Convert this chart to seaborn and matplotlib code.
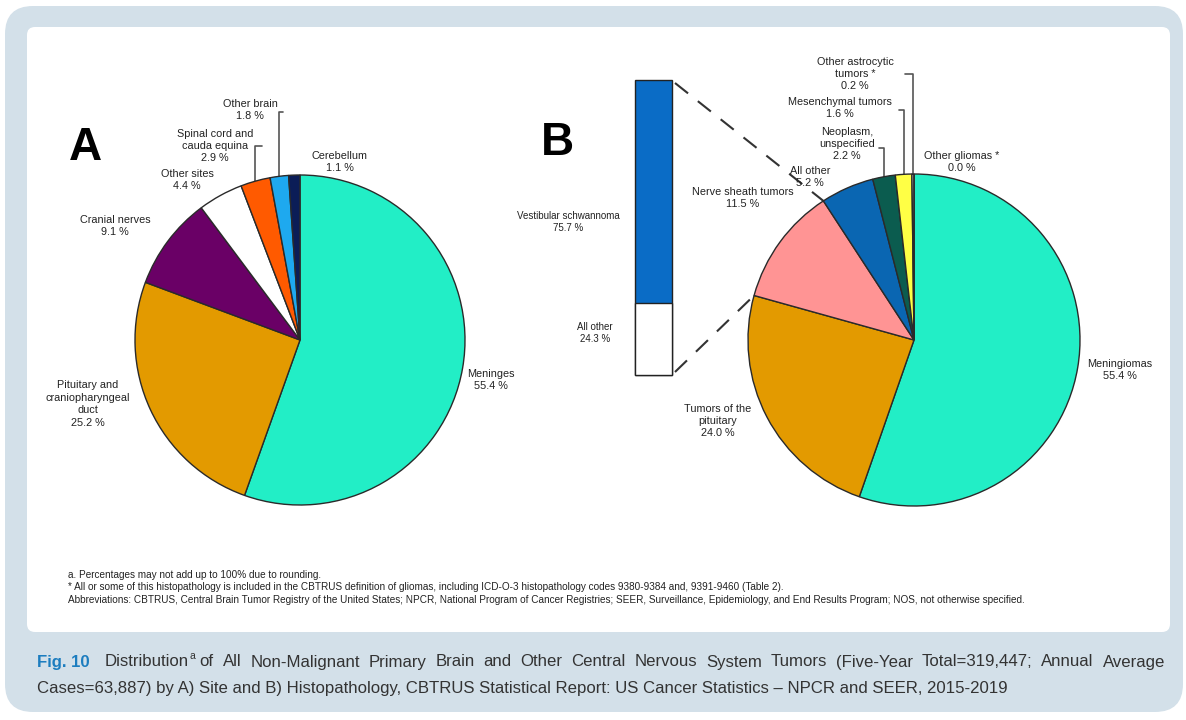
# CBTRUS fig 10 - non-malignant brain/CNS tumors by site and histopathology

import numpy as np
import pandas as pd
import matplotlib
matplotlib.use("Agg")
import matplotlib.pyplot as plt
from matplotlib.patches import FancyBboxPatch
import seaborn as sns

# --- data ---
site_labels = ["Meninges", "Pituitary and\ncraniopharyngeal\nduct", "Cranial nerves",
               "Other sites", "Spinal cord and\ncauda equina", "Other brain", "Cerebellum"]
site_pct = [55.4, 25.2, 9.1, 4.4, 2.9, 1.8, 1.1]
site_colors = ["#22EEC6", "#E39A00", "#6A0066", "#FFFFFF", "#FF5A00", "#1EA9EF", "#0B1D57"]

histo_labels = ["Meningiomas", "Tumors of the\npituitary", "Nerve sheath tumors", "All other",
                "Neoplasm,\nunspecified", "Mesenchymal tumors", "Other astrocytic\ntumors *",
                "Other gliomas *"]
histo_pct = [55.4, 24.0, 11.5, 5.2, 2.2, 1.6, 0.2, 0.0]
histo_colors = ["#22EEC6", "#E39A00", "#FF9494", "#0A66B2", "#0B5C4F", "#FFFF45", "#E8E8E8", "#8866CC"]

nerve_labels = ["All other", "Vestibular schwannoma"]
nerve_pct = [24.3, 75.7]
nerve_colors = ["#FFFFFF", "#0A6CC6"]

# label layout (pixel centres)
site_xy = [(491, 380), (88, 404), (115, 226), (187, 180), (215, 146), (250, 110), (340, 162)]
histo_xy = [(1120, 370), (718, 421), (743, 198), (810, 177), (847, 144), (840, 108), (855, 74), (962, 162)]
nerve_xy = [(595, 333), (568, 222)]
# leader lines: label index -> (x start, y)
site_leaders = {4: (262, 146), 5: (283, 112)}
histo_leaders = {4: (879, 148), 5: (899, 110), 6: (905, 74)}

W, H = 1186, 720
sns.set_theme(style="white")
plt.rcParams["font.family"] = ["Liberation Sans", "DejaVu Sans"]
narrow = ["Liberation Sans Narrow", "Liberation Sans", "DejaVu Sans"]
txt_col = "#222222"

fig = plt.figure(figsize=(W / 100, H / 100), dpi=100)
ax0 = fig.add_axes([0, 0, 1, 1])
ax0.set_xlim(0, W)
ax0.set_ylim(H, 0)
ax0.axis("off")

ax0.add_patch(FancyBboxPatch((5, 6), 1178, 706, boxstyle="round,pad=0,rounding_size=28",
                             fc="#D3E0E9", ec="none"))
ax0.add_patch(FancyBboxPatch((27, 27), 1143, 605, boxstyle="round,pad=0,rounding_size=8",
                             fc="white", ec="none"))


def pie_axes(cx, cy, r):
    return fig.add_axes([(cx - r) / W, (H - cy - r) / H, 2 * r / W, 2 * r / H])


def draw_pie(cx, cy, r, vals, cols):
    ax = pie_axes(cx, cy, r)
    wedges, _ = ax.pie(vals, colors=sns.color_palette(cols), startangle=90, counterclock=False,
                       wedgeprops=dict(edgecolor="#2a2a2a", linewidth=1))
    for w in wedges:
        w.set_clip_on(False)
    ax.set_xlim(-1, 1)
    ax.set_ylim(-1, 1)
    ax.axis("off")
    return wedges


def edge_px(cx, cy, r, theta):
    t = np.deg2rad(theta)
    return cx + r * np.cos(t), cy - r * np.sin(t)


cA = (300, 340, 165)
cB = (914, 340, 166)
wA = draw_pie(*cA, site_pct, site_colors)
wB = draw_pie(*cB, histo_pct, histo_colors)

lab_kw = dict(ha="center", va="center", fontsize=7.8, color=txt_col, linespacing=1.3)
for lab, v, (x, y) in zip(site_labels, site_pct, site_xy):
    ax0.text(x, y, f"{lab}\n{v:.1f} %", **lab_kw)
for lab, v, (x, y) in zip(histo_labels, histo_pct, histo_xy):
    ax0.text(x, y, f"{lab}\n{v:.1f} %", **lab_kw)
for lab, v, (x, y) in zip(nerve_labels, nerve_pct, nerve_xy):
    ax0.text(x, y, f"{lab}\n{v:.1f} %", **{**lab_kw, "fontsize": 7})


def leaders(wedges, centre, table):
    cx, cy, r = centre
    for i, (xs, ys) in table.items():
        w = wedges[i]
        xm, ym = edge_px(cx, cy, r, (w.theta1 + w.theta2) / 2)
        ax0.plot([xs, xm, xm], [ys, ys, ym], color="#555555", lw=1.2)


leaders(wA, cA, site_leaders)
leaders(wB, cB, histo_leaders)

# stacked bar for nerve sheath tumors
axBar = fig.add_axes([635 / W, (H - 375) / H, 37 / W, 295 / H])
bar_df = pd.DataFrame({"grp": ["n"], "total": [sum(nerve_pct)], "low": [nerve_pct[0]]})
sns.barplot(data=bar_df, x="grp", y="total", color=nerve_colors[1], saturation=1, width=1,
            edgecolor="#222222", linewidth=1, ax=axBar)
sns.barplot(data=bar_df, x="grp", y="low", color=nerve_colors[0], saturation=1, width=1,
            edgecolor="#222222", linewidth=1, ax=axBar)
axBar.set_xlim(-0.5, 0.5)
axBar.set_ylim(0, 100)
axBar.axis("off")
for p in axBar.patches:
    p.set_clip_on(False)

# dashed connectors from bar to nerve sheath slice
inv = ax0.transData.inverted()
top_r = inv.transform(axBar.transData.transform((0.5, 100)))
bot_r = inv.transform(axBar.transData.transform((0.5, 0)))
ws = wB[2]
p_top = edge_px(*cB, ws.theta1)
p_bot = edge_px(*cB, ws.theta2)
for (x0, y0), (x1, y1) in [(top_r, p_top), (bot_r, p_bot)]:
    ax0.plot([x0 + 3, x1], [y0 + (3 if y1 > y0 else -3), y1], color="#333333", lw=1.5,
             dashes=(8, 6))

ax0.text(85, 148, "A", fontsize=33, weight="bold", ha="center", va="center", color="black")
ax0.text(557, 143, "B", fontsize=33, weight="bold", ha="center", va="center", color="black")

# footnotes
notes = ["a. Percentages may not add up to 100% due to rounding.",
         "* All or some of this histopathology is included in the CBTRUS definition of gliomas, "
         "including ICD-O-3 histopathology codes 9380-9384 and, 9391-9460 (Table 2).",
         "Abbreviations: CBTRUS, Central Brain Tumor Registry of the United States; NPCR, National "
         "Program of Cancer Registries; SEER, Surveillance, Epidemiology, and End Results Program; "
         "NOS, not otherwise specified."]
for y, s in zip([575, 587, 600], notes):
    ax0.text(68, y, s, fontsize=7.2, family=narrow, ha="left", va="center", color=txt_col)

# caption, first line justified
renderer = fig.canvas.get_renderer()


def right_of(t):
    bb = t.get_window_extent(renderer)
    return inv.transform((bb.x1, bb.y0))[0]


cap_kw = dict(fontsize=12.1, family=narrow, va="center", color="#333333")
t = ax0.text(37, 662, "Fig. 10", **{**cap_kw, "color": "#1C7DBF", "weight": "bold"})
t = ax0.text(right_of(t) + 15, 662, "Distribution", **cap_kw)
t = ax0.text(right_of(t) + 1, 656, "a", **{**cap_kw, "fontsize": 7.5})
x_start = right_of(t) + 4
words = ("of All Non-Malignant Primary Brain and Other Central Nervous System "
         "Tumors (Five-Year Total=319,447; Annual Average").split()
wt = [ax0.text(0, 662, w, **cap_kw) for w in words]
widths = [right_of(w) for w in wt]
gap = (1165 - x_start - sum(widths)) / (len(words) - 1)
x = x_start
for w, wd in zip(wt, widths):
    w.set_x(x)
    x += wd + gap
ax0.text(37, 688, "Cases=63,887) by A) Site and B) Histopathology, CBTRUS Statistical Report: "
         "US Cancer Statistics \u2013 NPCR and SEER, 2015-2019", **cap_kw)

fig.savefig("out.png", dpi=100, facecolor="white")
